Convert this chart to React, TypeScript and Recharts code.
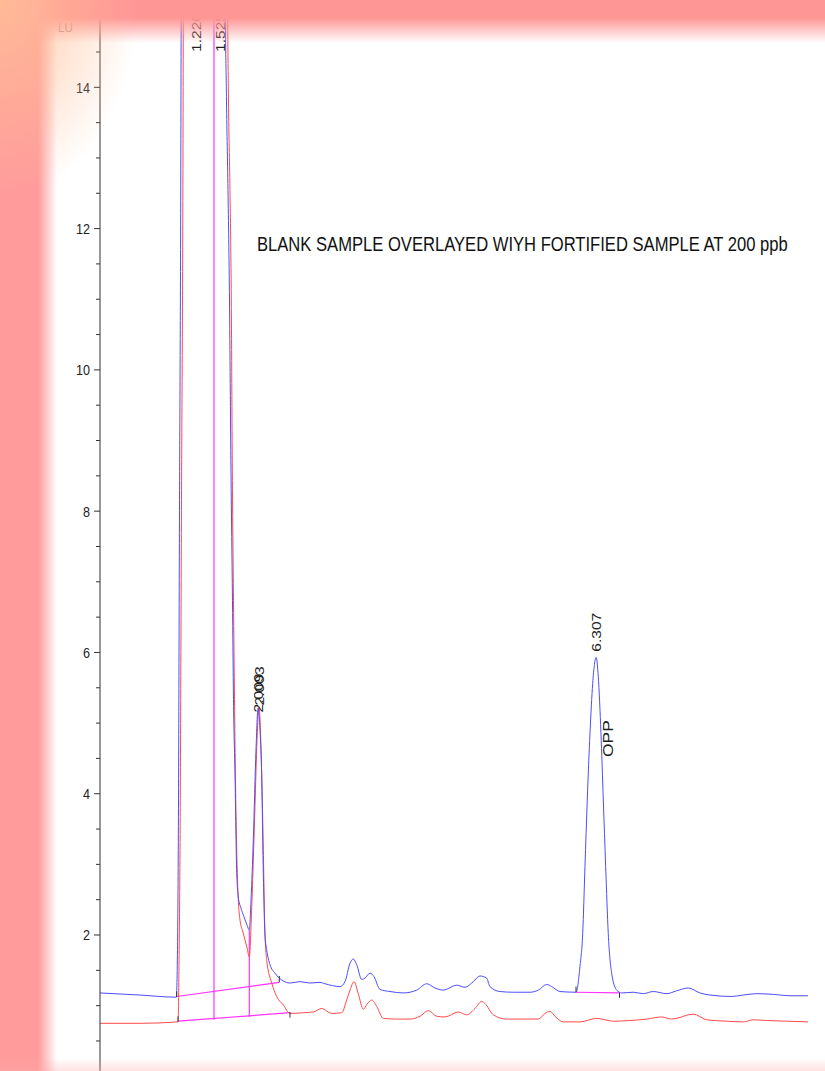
import { LineChart, Line, XAxis, YAxis, ReferenceLine, ReferenceDot } from "recharts";

// retention time (min) / response (LU)
const fortTime = [
  0, 0.509, 0.97, 0.985, 0.995, 1.011, 1.026, 1.034, 1.226, 1.45, 1.525, 1.589, 1.608, 1.627, 1.646, 1.665,
  1.684, 1.697, 1.716, 1.738, 1.758, 1.792, 1.83, 1.869, 1.898, 1.92, 1.949, 1.983, 2.009, 2.034, 2.055, 2.076,
  2.097, 2.119, 2.161, 2.224, 2.279, 2.33, 2.415, 2.542, 2.669, 2.797, 2.86, 3.051, 3.114, 3.178, 3.22, 3.263,
  3.327, 3.368, 3.432, 3.483, 3.559, 3.686, 3.855, 4.026, 4.153, 4.258, 4.364, 4.534, 4.64, 4.745, 4.83, 4.915,
  4.957, 5.084, 5.254, 5.466, 5.572, 5.678, 5.742, 5.847, 6.051, 6.101, 6.136, 6.165, 6.194, 6.229, 6.263, 6.307,
  6.334, 6.368, 6.398, 6.428, 6.461, 6.504, 6.568, 6.632, 6.779, 6.906, 7.033, 7.203, 7.33, 7.478, 7.626, 7.754,
  8.03, 8.177, 8.347, 8.558, 8.771, 9.0,
];
const fortLU = [
  1.18, 1.15, 1.12, 1.79, 3.2, 8.16, 12.4, 16.1, 62, 38, 55, 15.8, 13.82, 12.55, 10.99, 8.58,
  6.74, 5.33, 4.29, 2.88, 2.54, 2.38, 2.26, 2.14, 2.07, 2.5, 3.35, 4.62, 5.21, 4.9, 4.29, 2.88,
  2.0, 1.79, 1.58, 1.46, 1.39, 1.35, 1.32, 1.34, 1.32, 1.33, 1.31, 1.27, 1.34, 1.6, 1.66, 1.58,
  1.37, 1.39, 1.46, 1.41, 1.23, 1.2, 1.18, 1.22, 1.31, 1.25, 1.22, 1.29, 1.26, 1.34, 1.42, 1.39,
  1.27, 1.2, 1.19, 1.19, 1.22, 1.3, 1.27, 1.2, 1.19, 1.55, 2.02, 2.97, 3.91, 4.86, 5.56, 5.93,
  5.66, 4.86, 3.91, 2.97, 2.02, 1.46, 1.22, 1.18, 1.19, 1.17, 1.2, 1.17, 1.21, 1.25, 1.18, 1.15,
  1.13, 1.15, 1.17, 1.16, 1.14, 1.14,
];

const blankTime = [
  0, 0.509, 0.992, 1.005, 1.017, 1.036, 1.055, 1.061, 1.226, 1.45, 1.525, 1.617, 1.633, 1.652, 1.669, 1.682,
  1.697, 1.71, 1.722, 1.741, 1.758, 1.78, 1.818, 1.843, 1.869, 1.898, 1.929, 1.97, 1.996, 2.021, 2.055, 2.076,
  2.097, 2.119, 2.183, 2.246, 2.33, 2.415, 2.584, 2.711, 2.818, 2.945, 3.072, 3.136, 3.178, 3.229, 3.283, 3.347,
  3.394, 3.454, 3.517, 3.601, 3.771, 3.94, 4.068, 4.173, 4.28, 4.385, 4.555, 4.661, 4.767, 4.852, 4.894, 5.0,
  5.17, 5.381, 5.572, 5.657, 5.72, 5.784, 5.889, 6.101, 6.313, 6.525, 6.737, 6.949, 7.14, 7.267, 7.542, 7.712,
  7.966, 8.177, 8.304, 8.474, 8.728, 9.0,
];
const blankLU = [
  0.75, 0.75, 0.77, 1.65, 3.2, 8.16, 13.11, 16.1, 60, 36, 52, 15.8, 13.82, 12.55, 10.99, 8.58,
  6.74, 5.33, 4.19, 3.06, 2.5, 2.21, 2.04, 1.93, 1.82, 1.69, 2.4, 3.82, 4.76, 5.23, 4.29, 3.2,
  2.03, 1.65, 1.32, 1.13, 1.01, 0.89, 0.9, 0.91, 0.96, 0.89, 0.9, 1.08, 1.22, 1.34, 1.17, 0.95,
  1.02, 1.08, 0.99, 0.82, 0.81, 0.81, 0.85, 0.93, 0.85, 0.84, 0.91, 0.87, 0.96, 1.06, 1.03, 0.87,
  0.81, 0.81, 0.81, 0.89, 0.92, 0.85, 0.77, 0.77, 0.82, 0.78, 0.79, 0.81, 0.84, 0.81, 0.88, 0.8,
  0.78, 0.77, 0.8, 0.79, 0.78, 0.77,
];

const yTicks = [0.5, 1, 1.5, 2, 2.5, 3, 3.5, 4, 4.5, 5, 5.5, 6, 6.5, 7, 7.5, 8, 8.5, 9, 9.5, 10, 10.5, 11, 11.5, 12, 12.5, 13, 13.5, 14, 14.5, 15];

// integration baselines / drop lines (magenta)
const baselineSegs = [
  { t1: 0.975, v1: 1.13, t2: 2.279, v2: 1.33 },
  { t1: 0.992, v1: 0.78, t2: 2.415, v2: 0.9 },
  { t1: 1.449, v1: 0.8, t2: 1.449, v2: 15.3 },
  { t1: 1.898, v1: 0.84, t2: 1.898, v2: 2.07 },
  { t1: 6.051, v1: 1.19, t2: 6.604, v2: 1.18 },
];
// start/stop ticks of integration
const markerSegs = [
  { t: 0.975, v1: 1.12, v2: 1.2 },
  { t: 0.992, v1: 0.77, v2: 0.85 },
  { t: 2.279, v1: 1.33, v2: 1.42 },
  { t: 2.415, v1: 0.83, v2: 0.91 },
  { t: 6.051, v1: 1.19, v2: 1.27 },
  { t: 6.604, v1: 1.11, v2: 1.18 },
];

const peakLabels = [
  { text: "1.226", t: 1.226, v: 14.5 },
  { text: "1.525", t: 1.525, v: 14.5 },
  { text: "2.009", t: 2.009, v: 5.15 },
  { text: "2.003", t: 2.03, v: 5.25 },
  { text: "6.307", t: 6.307, v: 6.01 },
];
const compoundLabels = [{ text: "OPP", t: 6.451, v: 4.52 }];

const fortData = fortTime.map((t, i) => ({ t, lu: fortLU[i] }));
const blankData = blankTime.map((t, i) => ({ t, lu: blankLU[i] }));

const AXIS_X = 100;
const FONT = "'Liberation Sans', Arial, sans-serif";

function AxisTick(props: any) {
  const { y, payload } = props;
  const major = payload.value % 2 === 0;
  const txt = String(payload.value);
  return (
    <g>
      <line x1={AXIS_X - (major ? 6 : 4)} x2={AXIS_X} y1={y} y2={y} stroke="#333" />
      {major && (
        <text
          x={AXIS_X - 10}
          y={y}
          dy="0.36em"
          textAnchor="end"
          fontSize={15}
          textLength={txt.length * 7}
          lengthAdjust="spacingAndGlyphs"
          fill="#222"
          fontFamily={FONT}
        >
          {txt}
        </text>
      )}
    </g>
  );
}

function rotated(text: string, size: number, len: number) {
  return (p: any) => (
    <text
      x={p.cx}
      y={p.cy}
      transform={`rotate(-90 ${p.cx} ${p.cy})`}
      dy="0.36em"
      fontSize={size}
      textLength={len}
      lengthAdjust="spacingAndGlyphs"
      fill="#222"
      fontFamily={FONT}
    >
      {text}
    </text>
  );
}

export default function App() {
  return (
    <div style={{ position: "relative", width: 825, height: 1071, overflow: "hidden", background: "#fff" }}>
      <style>{"body{margin:0}"}</style>
      <LineChart width={825} height={1071} margin={{ top: 0, right: 17, bottom: 0, left: 0 }}>
        <XAxis type="number" dataKey="t" domain={[0, 9]} hide allowDataOverflow />
        <YAxis
          type="number"
          domain={[0.075, 15.236]}
          allowDataOverflow
          ticks={yTicks}
          interval={0}
          width={100}
          tick={AxisTick}
          tickLine={false}
          axisLine={{ stroke: "#333" }}
        />
        {baselineSegs.map((s, i) => (
          <ReferenceLine
            key={"b" + i}
            segment={[{ x: s.t1, y: s.v1 }, { x: s.t2, y: s.v2 }]}
            stroke="#ff33ff"
            strokeWidth={1.2}
            ifOverflow="visible"
          />
        ))}
        <Line data={blankData} dataKey="lu" type="monotone" stroke="#ff4a4a" strokeWidth={1} dot={false} isAnimationActive={false} />
        <Line data={fortData} dataKey="lu" type="monotone" stroke="#4d4dff" strokeWidth={1} dot={false} isAnimationActive={false} />
        {markerSegs.map((m, i) => (
          <ReferenceLine
            key={"m" + i}
            segment={[{ x: m.t, y: m.v1 }, { x: m.t, y: m.v2 }]}
            stroke="#333"
            strokeWidth={1}
            ifOverflow="visible"
          />
        ))}
        {peakLabels.map((l, i) => (
          <ReferenceDot key={"p" + i} x={l.t} y={l.v} r={0} ifOverflow="visible" shape={rotated(l.text, 13, 39)} />
        ))}
        {compoundLabels.map((l, i) => (
          <ReferenceDot key={"c" + i} x={l.t} y={l.v} r={0} ifOverflow="visible" shape={rotated(l.text, 15.5, 37)} />
        ))}
      </LineChart>

      <svg width={825} height={1071} style={{ position: "absolute", left: 0, top: 0, pointerEvents: "none" }}>
        <g transform="translate(257 251) scale(1 1.19)">
          <text x={0} y={0} fontSize={16.6} fill="#111" fontFamily={FONT}>
            BLANK SAMPLE OVERLAYED WIYH FORTIFIED SAMPLE AT 200 ppb
          </text>
        </g>
        <g transform="translate(58 32) scale(1 1.19)">
          <text x={0} y={0} fontSize={11.5} fill="#777" fontFamily={FONT}>
            LU
          </text>
        </g>
      </svg>

      {/* blurred pink frame of the scan */}
      <div
        style={{
          position: "absolute", left: 0, top: 0, width: 825, height: 46, pointerEvents: "none",
          background: "linear-gradient(to bottom, rgba(255,150,150,1) 0px, rgba(255,150,150,1) 18px, rgba(255,150,150,0) 43px)",
        }}
      />
      <div
        style={{
          position: "absolute", left: 0, top: 0, width: 60, height: 1071, pointerEvents: "none",
          background: "linear-gradient(to right, rgba(255,155,155,1) 0px, rgba(255,155,155,1) 38px, rgba(255,155,155,0) 57px)",
        }}
      />
      <div
        style={{
          position: "absolute", left: 0, top: 0, width: 140, height: 200, pointerEvents: "none",
          background: "radial-gradient(ellipse at 0% 0%, rgba(255,190,150,0.9) 0%, rgba(255,190,150,0) 70%)",
        }}
      />
      <div
        style={{
          position: "absolute", left: 0, top: 1058, width: 825, height: 13, pointerEvents: "none",
          background: "linear-gradient(to top, rgba(255,170,170,0.35), rgba(255,170,170,0))",
        }}
      />
    </div>
  );
}
